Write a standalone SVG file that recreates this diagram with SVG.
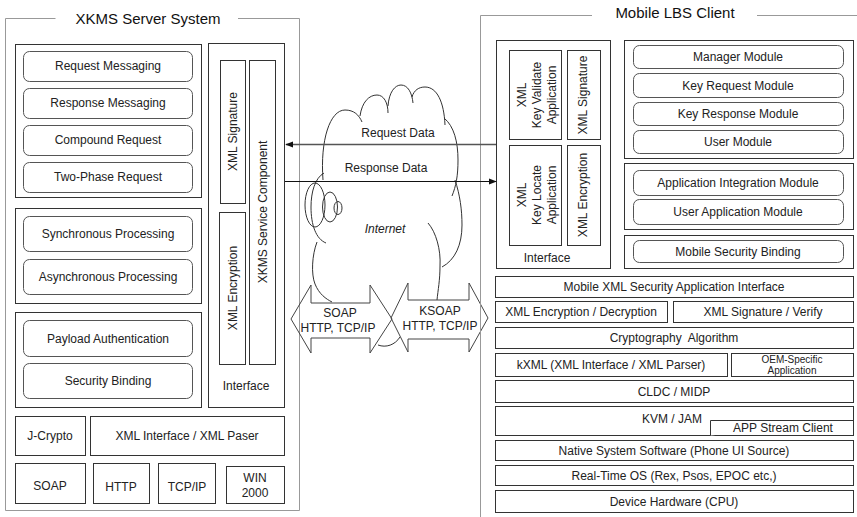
<svg xmlns="http://www.w3.org/2000/svg" width="857" height="517" viewBox="0 0 857 517">
<defs>
<style>
text{font-family:"Liberation Sans",Arial,sans-serif;font-size:12px;fill:#222;text-anchor:middle;}
.title{font-size:15px;fill:#111;}
.frame{fill:none;stroke:#999;stroke-width:1;}
.grp{fill:#fff;stroke:#333;stroke-width:1;}
.rbox{fill:#fff;stroke:#555;stroke-width:1;}
.box{fill:#fff;stroke:#333;stroke-width:1;}
.cloud{fill:none;stroke:#333;stroke-width:1;}
.big{fill:none;stroke:#444;stroke-width:1;}
.small{font-size:10px;}
.pre{white-space:pre;}
</style>
<marker id="ah" viewBox="0 0 10 10" refX="9" refY="5" markerWidth="8" markerHeight="8" markerUnits="userSpaceOnUse" orient="auto">
<path d="M0,1 L10,5 L0,9 z" fill="#111"/>
</marker>
</defs>
<rect width="857" height="517" fill="#fff"/>

<!-- Left frame: XKMS Server System -->
<g id="xkms-server-system">
<path class="frame" d="M55.5,18.5 H5.5 V510.5 H299.5 V18.5 H238"/>
<text class="title" x="148" y="24">XKMS Server System</text>

<g id="grp-messaging">
<rect class="grp" x="15.5" y="44.5" width="186" height="153"/>
<rect class="rbox" x="23.5" y="51.5" width="169" height="30" rx="6"/>
<text x="108" y="70">Request Messaging</text>
<rect class="rbox" x="23.5" y="88.5" width="169" height="30" rx="6"/>
<text x="108" y="107">Response Messaging</text>
<rect class="rbox" x="23.5" y="125.5" width="169" height="30" rx="6"/>
<text x="108" y="144">Compound Request</text>
<rect class="rbox" x="23.5" y="162.5" width="169" height="30" rx="6"/>
<text x="108" y="181">Two-Phase Request</text>
</g>

<g id="grp-processing">
<rect class="grp" x="15.5" y="208.5" width="186" height="95"/>
<rect class="rbox" x="23.5" y="216.5" width="169" height="35" rx="6"/>
<text x="108" y="238">Synchronous Processing</text>
<rect class="rbox" x="23.5" y="259.5" width="169" height="35" rx="6"/>
<text x="108" y="281">Asynchronous Processing</text>
</g>

<g id="grp-security">
<rect class="grp" x="15.5" y="312.5" width="186" height="95"/>
<rect class="rbox" x="23.5" y="320.5" width="169" height="36" rx="6"/>
<text x="108" y="343">Payload Authentication</text>
<rect class="rbox" x="23.5" y="363.5" width="169" height="35" rx="6"/>
<text x="108" y="385">Security Binding</text>
</g>

<g id="server-interface">
<rect class="grp" x="208.5" y="43.5" width="76" height="364"/>
<rect class="box" x="220.5" y="60.5" width="25" height="143"/>
<text transform="translate(232.5,131.5) rotate(-90)" x="0" y="4">XML Signature</text>
<rect class="box" x="219.5" y="212.5" width="26" height="152"/>
<text transform="translate(232.5,288) rotate(-90)" x="0" y="4">XML Encryption</text>
<rect class="box" x="249.5" y="60.5" width="26" height="304"/>
<text transform="translate(262.5,212) rotate(-90)" x="0" y="4">XKMS Service Component</text>
<text x="246" y="390">Interface</text>
</g>

<g id="server-base">
<rect class="box" x="15.5" y="416.5" width="70" height="39"/>
<text x="50" y="440">J-Crypto</text>
<rect class="box" x="90.5" y="416.5" width="194" height="39"/>
<text x="187" y="440">XML Interface / XML Paser</text>
<rect class="box" x="15.5" y="463.5" width="70" height="40"/>
<text x="50" y="490">SOAP</text>
<rect class="box" x="93.5" y="463.5" width="56" height="40"/>
<text x="121" y="491">HTTP</text>
<rect class="box" x="158.5" y="463.5" width="57" height="40"/>
<text x="187" y="491">TCP/IP</text>
<rect class="box" x="226.5" y="466.5" width="58" height="37"/>
<text x="255" y="482">WIN</text>
<text x="255" y="497">2000</text>
</g>
</g>

<!-- Internet cloud -->
<g id="internet">
<path class="cloud" d="M323,180 C320,140 330,110 345,110 C354,110 359,115 362,122"/>
<path class="cloud" d="M360,116 C362,102 369,95 377,95 C384,95 388,103 388,113"/>
<path class="cloud" d="M388,106 C389,92 395,85 401,85 C408,85 412,93 413,103"/>
<path class="cloud" d="M412,97 C414,90 419,87 425,87 C437,87 444,102 445,125"/>
<path class="cloud" d="M444,118 C454,126 458,142 458,160 C458,176 456,186 452,196"/>
<path class="cloud" d="M455,180 C460,195 462,210 462,225 C462,245 455,260 442,267"/>
<path class="cloud" d="M428,223 C436,232 441,250 440,266 C440,280 438,290 437,300"/>
<path class="cloud" d="M324,173 C315,178 311,192 311,207 C311,225 316,239 326,243"/>
<ellipse class="cloud" cx="315" cy="205" rx="10" ry="22"/>
<ellipse class="cloud" cx="330" cy="207" rx="7.5" ry="15"/>
<ellipse class="cloud" cx="338" cy="208" rx="4" ry="6.5"/>
<path class="cloud" d="M317,242 C312,255 311,274 315,284 C319,294 326,299 332,302"/>
<path class="cloud" d="M378,345 C386,348 395,345 400,337"/>
<text x="385" y="233" font-style="italic">Internet</text>
</g>

<!-- Protocol arrows -->
<g id="soap-arrow">
<path class="big" d="M291,319 L311,285 V303 H370 V285 L392,319 L370,353 V338 H311 V353 Z"/>
<text x="340" y="317">SOAP</text>
<text x="338" y="332">HTTP, TCP/IP</text>
</g>
<g id="ksoap-arrow">
<path class="big" d="M391,318 L408,283 V300 H469 V283 L488,318 L469,352 V339 H408 V352 Z"/>
<text x="440" y="315">KSOAP</text>
<text x="440" y="330">HTTP, TCP/IP</text>
</g>

<!-- Right frame: Mobile LBS Client -->
<g id="mobile-lbs-client">
<path class="frame" d="M592,15.5 H480.5 V517"/>
<path class="frame" d="M757,15.5 H857"/>
<text class="title" x="675" y="18">Mobile LBS Client</text>

<g id="client-interface">
<rect class="grp" x="496.5" y="40.5" width="114" height="228"/>
<rect class="box" x="509.5" y="50.5" width="52" height="89"/>
<text transform="translate(522,95) rotate(-90)" x="0" y="4">XML</text>
<text transform="translate(537,95) rotate(-90)" x="0" y="4">Key Validate</text>
<text transform="translate(552,95) rotate(-90)" x="0" y="4">Application</text>
<rect class="box" x="567.5" y="50.5" width="33" height="89"/>
<text transform="translate(583,95) rotate(-90)" x="0" y="4">XML Signature</text>
<rect class="box" x="509.5" y="145.5" width="52" height="100"/>
<text transform="translate(522,195) rotate(-90)" x="0" y="4">XML</text>
<text transform="translate(537,195) rotate(-90)" x="0" y="4">Key Locate</text>
<text transform="translate(552,195) rotate(-90)" x="0" y="4">Application</text>
<rect class="box" x="567.5" y="145.5" width="33" height="100"/>
<text transform="translate(583,195) rotate(-90)" x="0" y="4">XML Encryption</text>
<text x="547" y="262">Interface</text>
</g>

<g id="grp-modules">
<rect class="grp" x="624.5" y="40.5" width="229" height="118"/>
<rect class="rbox" x="633.5" y="45.5" width="210" height="23" rx="6"/>
<text x="738" y="61">Manager Module</text>
<rect class="rbox" x="633.5" y="73.5" width="210" height="24" rx="6"/>
<text x="738" y="89.5">Key Request Module</text>
<rect class="rbox" x="633.5" y="102.5" width="210" height="23" rx="6"/>
<text x="738" y="118">Key Response Module</text>
<rect class="rbox" x="633.5" y="130.5" width="210" height="23" rx="6"/>
<text x="738" y="146">User Module</text>
</g>

<g id="grp-applications">
<rect class="grp" x="624.5" y="163.5" width="229" height="66"/>
<rect class="rbox" x="633.5" y="170.5" width="210" height="25" rx="6"/>
<text x="738" y="187">Application Integration Module</text>
<rect class="rbox" x="633.5" y="199.5" width="210" height="25" rx="6"/>
<text x="738" y="216">User Application Module</text>
</g>

<g id="grp-binding">
<rect class="grp" x="624.5" y="235.5" width="229" height="33"/>
<rect class="rbox" x="633.5" y="240.5" width="210" height="22" rx="6"/>
<text x="738" y="256">Mobile Security Binding</text>
</g>

<g id="client-stack">
<rect class="box" x="495.5" y="276.5" width="358" height="21"/>
<text x="674" y="291">Mobile XML Security Application Interface</text>
<rect class="box" x="495.5" y="301.5" width="172" height="21"/>
<text x="581" y="316">XML Encryption / Decryption</text>
<rect class="box" x="673.5" y="301.5" width="180" height="21"/>
<text x="763" y="316">XML Signature / Verify</text>
<rect class="box" x="495.5" y="327.5" width="358" height="21"/>
<text class="pre" x="674" y="342">Cryptography  Algorithm</text>
<rect class="box" x="495.5" y="353.5" width="232" height="23"/>
<text x="611" y="369">kXML (XML Interface / XML Parser)</text>
<rect class="box" x="731.5" y="353.5" width="122" height="23"/>
<text class="small" x="792" y="363">OEM-Specific</text>
<text class="small" x="792" y="374">Application</text>
<rect class="box" x="495.5" y="380.5" width="358" height="22"/>
<text x="674" y="396">CLDC / MIDP</text>
<rect class="box" x="495.5" y="406.5" width="358" height="29"/>
<text x="672" y="423">KVM / JAM</text>
<path class="box" fill="none" d="M853.5,420.5 H710.5 V435.5"/>
<text x="783" y="432">APP Stream Client</text>
<rect class="box" x="495.5" y="440.5" width="358" height="20"/>
<text x="674" y="455">Native System Software (Phone UI Source)</text>
<rect class="box" x="495.5" y="465.5" width="358" height="20"/>
<text x="674" y="480">Real-Time OS (Rex, Psos, EPOC etc,)</text>
<rect class="box" x="495.5" y="490.5" width="358" height="22"/>
<text x="674" y="506">Device Hardware (CPU)</text>
</g>
</g>

<!-- Connectors -->
<g id="connectors">
<line x1="496" y1="144.5" x2="286" y2="144.5" stroke="#555" stroke-width="1.5" marker-end="url(#ah)"/>
<text x="398" y="137">Request Data</text>
<line x1="285" y1="181.5" x2="496" y2="181.5" stroke="#111" stroke-width="1" marker-end="url(#ah)"/>
<text x="386" y="172">Response Data</text>
</g>
</svg>
